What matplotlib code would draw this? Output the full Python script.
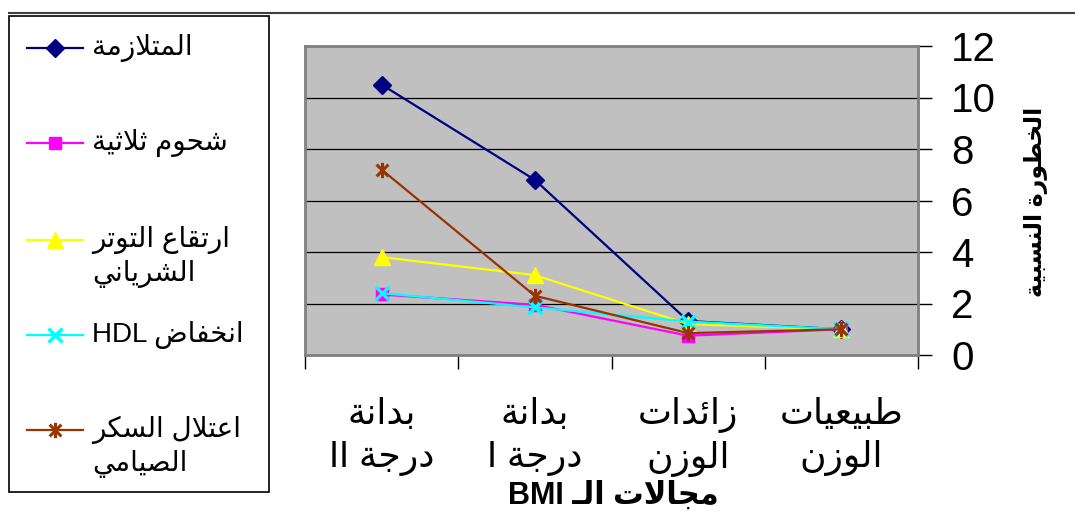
import re
import matplotlib
matplotlib.use("Agg")
import matplotlib.pyplot as plt
from matplotlib.lines import Line2D
from matplotlib.patches import Rectangle
from matplotlib.path import Path

# ---------------- data ----------------
categories = ["طبيعيات\nالوزن", "زائدات\nالوزن", "بدانة\nدرجة I", "بدانة\nدرجة II"]
series_names = ["المتلازمة", "شحوم ثلاثية", "ارتقاع التوتر\nالشرياني", "انخفاض HDL", "اعتلال السكر\nالصيامي"]
metabolic_syndrome = [1.0, 1.32, 6.8, 10.5]
triglycerides = [1.0, 0.75, 1.95, 2.35]
hypertension = [1.0, 1.2, 3.1, 3.8]
low_hdl = [1.0, 1.3, 1.85, 2.4]
fasting_glucose = [1.0, 0.85, 2.3, 7.2]
y_ticks = [0, 2, 4, 6, 8, 10, 12]
y_label = "الخطورة النسبية"
x_label = "مجالات الـ BMI"

# ---------------- minimal Arabic shaping ----------------
_AR = [('\u0621', 0xFE80, 1), ('\u0622', 0xFE81, 2), ('\u0623', 0xFE83, 2), ('\u0624', 0xFE85, 2),
       ('\u0625', 0xFE87, 2), ('\u0626', 0xFE89, 4), ('\u0627', 0xFE8D, 2), ('\u0628', 0xFE8F, 4),
       ('\u0629', 0xFE93, 2), ('\u062A', 0xFE95, 4), ('\u062B', 0xFE99, 4), ('\u062C', 0xFE9D, 4),
       ('\u062D', 0xFEA1, 4), ('\u062E', 0xFEA5, 4), ('\u062F', 0xFEA9, 2), ('\u0630', 0xFEAB, 2),
       ('\u0631', 0xFEAD, 2), ('\u0632', 0xFEAF, 2), ('\u0633', 0xFEB1, 4), ('\u0634', 0xFEB5, 4),
       ('\u0635', 0xFEB9, 4), ('\u0636', 0xFEBD, 4), ('\u0637', 0xFEC1, 4), ('\u0638', 0xFEC5, 4),
       ('\u0639', 0xFEC9, 4), ('\u063A', 0xFECD, 4), ('\u0641', 0xFED1, 4), ('\u0642', 0xFED5, 4),
       ('\u0643', 0xFED9, 4), ('\u0644', 0xFEDD, 4), ('\u0645', 0xFEE1, 4), ('\u0646', 0xFEE5, 4),
       ('\u0647', 0xFEE9, 4), ('\u0648', 0xFEED, 2), ('\u0649', 0xFEEF, 2), ('\u064A', 0xFEF1, 4)]
FORMS = {c: (b, k) for c, b, k in _AR}
LAMALEF = {'\u0622': (0xFEF5, 0xFEF6), '\u0623': (0xFEF7, 0xFEF8),
           '\u0625': (0xFEF9, 0xFEFA), '\u0627': (0xFEFB, 0xFEFC)}
TATWEEL = '\u0640'


def _joins_next(c):
    return c == TATWEEL or (c in FORMS and FORMS[c][1] == 4)


def _joins_prev(c):
    return c == TATWEEL or (c in FORMS and FORMS[c][1] >= 2)


def _shape(s):
    res = []
    n = len(s)
    i = 0
    while i < n:
        c = s[i]
        prev = s[i - 1] if i > 0 else None
        conn_prev = prev is not None and _joins_next(prev)
        if c == '\u0644' and i + 1 < n and s[i + 1] in LAMALEF:
            iso, fin = LAMALEF[s[i + 1]]
            res.append(chr(fin if conn_prev else iso))
            i += 2
            continue
        if c not in FORMS:
            res.append(c)
            i += 1
            continue
        base, k = FORMS[c]
        nxt = s[i + 1] if i + 1 < n else None
        conn_next = k == 4 and nxt is not None and _joins_prev(nxt)
        conn_prev = conn_prev and k >= 2
        if conn_prev and conn_next:
            res.append(chr(base + 3))
        elif conn_prev:
            res.append(chr(base + 1))
        elif conn_next:
            res.append(chr(base + 2))
        else:
            res.append(chr(base))
        i += 1
    return ''.join(res)


def _visual(line):
    shaped = _shape(line)
    toks = re.findall(r'[A-Za-z0-9]+(?: [A-Za-z0-9]+)*|[^A-Za-z0-9]+', shaped)
    toks = [t if re.match(r'[A-Za-z0-9]', t) else t[::-1] for t in toks]
    return ''.join(reversed(toks))


def ar(text):
    return '\n'.join(_visual(l) for l in text.split('\n'))


# ---------------- figure ----------------
W, H = 1075, 515
FAM = ['Liberation Sans', 'DejaVu Sans']
plt.rcParams['font.family'] = FAM

fig = plt.figure(figsize=(W / 100, H / 100), dpi=100)
fig.patch.set_facecolor('white')
ax = fig.add_axes([305 / W, 1 - 355 / H, (918 - 305) / W, (355 - 46) / H])
ax.set_facecolor('#C0C0C0')

star = Path([(-1, -1), (1, 1), (-1, 1), (1, -1), (0, -1.3), (0, 1.3)],
            [Path.MOVETO, Path.LINETO, Path.MOVETO, Path.LINETO, Path.MOVETO, Path.LINETO])

styles = [
    dict(color='#000080', marker='D', ms=9.5, mfc='#000080', mec='#000080'),
    dict(color='#FF00FF', marker='s', ms=9, mfc='#FF00FF', mec='#FF00FF'),
    dict(color='#FFFF00', marker='^', ms=11, mfc='#FFFF00', mec='#FFFF00'),
    dict(color='#00FFFF', marker='x', ms=10, mew=2.4),
    dict(color='#993300', marker=star, ms=11, mew=2.2),
]
all_series = [metabolic_syndrome, triglycerides, hypertension, low_hdl, fasting_glucose]
xs = list(range(len(categories)))
for vals, st in zip(all_series, styles):
    ax.plot(xs, vals, lw=1.6, zorder=3, clip_on=False, **st)

ax.set_xlim(3.5, -0.5)
ax.set_ylim(0, 12)
ax.yaxis.tick_right()
ax.set_yticks(y_ticks)
ax.set_yticklabels([str(t) for t in y_ticks], fontsize=29)
ax.tick_params(axis='y', direction='out', length=10, width=1, color='black', pad=14)
ax.grid(axis='y', color='black', lw=0.9)
ax.set_axisbelow(True)

ax.set_xticks([-0.5, 0.5, 1.5, 2.5, 3.5])
ax.set_xticklabels([])
ax.tick_params(axis='x', which='major', direction='out', length=10, width=1, color='black')
ax.set_xticks(xs, minor=True)
ax.set_xticklabels([ar(c) for c in categories], minor=True, fontsize=26)
ax.tick_params(axis='x', which='minor', length=0, pad=30)
for t in ax.get_xticklabels(minor=True):
    t.set_linespacing(1.3)

for sp in ax.spines.values():
    sp.set_color('#808080')
    sp.set_linewidth(2)

# axis titles
fig.text(1036 / W, 1 - 202 / H, ar(y_label), rotation=90, fontsize=17, fontweight='bold',
         ha='center', va='center')
fig.text(613 / W, 1 - 496 / H, ar(x_label), fontsize=22, fontweight='bold',
         ha='center', va='center')

# top rule
fig.add_artist(Line2D([9 / W, 1.0], [1 - 13 / H, 1 - 13 / H], color='#404040', lw=1.5,
                      transform=fig.transFigure))

# legend box
fig.add_artist(Rectangle((9 / W, 1 - 492 / H), 260 / W, 476 / H, transform=fig.transFigure,
                         facecolor='white', edgecolor='black', lw=1.2))
leg_y = [48, 143, 240, 335, 430]
for name, st, yy in zip(series_names, styles, leg_y):
    fig.add_artist(Line2D([27 / W, 55 / W, 83 / W], [1 - yy / H] * 3, lw=1.6, markevery=[1],
                          transform=fig.transFigure, **st))
    for j, part in enumerate(name.split('\n')):
        fig.text(92 / W, 1 - (yy + 34 * j) / H, ar(part), fontsize=20, ha='left', va='center')

fig.savefig('out.png', dpi=100)
